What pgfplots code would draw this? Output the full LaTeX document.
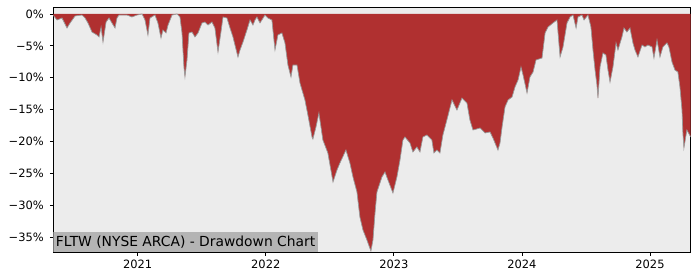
\documentclass[border=0pt]{standalone}
\usepackage{pgfplots}
\pgfplotsset{compat=1.18}
\usepackage{pgfplotstable}
\usepackage{fontspec}
\setmainfont{DejaVu Sans}
\definecolor{ddred}{RGB}{176,48,48}
\definecolor{bggray}{RGB}{236,236,236}
\definecolor{lblgray}{RGB}{180,180,180}
\pgfplotstableread{
x y
2020.339 -0.16
2020.370 -0.94
2020.409 -0.63
2020.448 -2.20
2020.472 -1.41
2020.511 -0.31
2020.565 -0.16
2020.589 -0.63
2020.612 -1.41
2020.643 -2.83
2020.682 -3.30
2020.698 -3.61
2020.714 -2.04
2020.729 -4.40
2020.753 -1.26
2020.776 -0.63
2020.799 -1.41
2020.823 -2.20
2020.838 -0.63
2020.854 -0.16
2020.916 -0.16
2020.955 -0.47
2020.995 -0.16
2021.034 0
2021.057 -0.94
2021.080 -3.30
2021.096 -0.63
2021.135 -0.16
2021.158 -1.41
2021.182 -3.77
2021.197 -2.51
2021.221 -2.98
2021.237 -1.73
2021.268 -0.16
2021.307 0
2021.330 -0.47
2021.346 -2.98
2021.361 -8.32
2021.369 -9.89
2021.385 -7.22
2021.400 -2.98
2021.424 -2.83
2021.447 -3.61
2021.471 -2.98
2021.502 -1.41
2021.525 -1.26
2021.549 -1.73
2021.580 -1.26
2021.603 -2.20
2021.627 -5.97
2021.650 -2.83
2021.666 -0.47
2021.697 -0.63
2021.721 -2.20
2021.744 -3.61
2021.775 -6.12
2021.783 -6.75
2021.799 -5.65
2021.822 -4.40
2021.853 -2.51
2021.877 -0.94
2021.900 -1.73
2021.916 -0.94
2021.931 -0.47
2021.955 -1.41
2021.994 -0.16
2022.017 -0.63
2022.048 -0.94
2022.072 -5.65
2022.095 -3.30
2022.126 -2.98
2022.150 -4.55
2022.173 -8.01
2022.197 -9.89
2022.212 -8.01
2022.244 -8.01
2022.267 -10.83
2022.306 -13.50
2022.329 -15.86
2022.361 -19.31
2022.368 -19.62
2022.392 -17.74
2022.415 -15.54
2022.446 -19.78
2022.485 -21.82
2022.525 -26.37
2022.556 -24.49
2022.579 -23.39
2022.626 -21.35
2022.657 -23.39
2022.681 -25.59
2022.712 -27.94
2022.735 -31.87
2022.759 -33.91
2022.790 -35.48
2022.821 -37.21
2022.837 -35.48
2022.853 -31.24
2022.868 -27.94
2022.907 -25.59
2022.931 -24.80
2022.954 -26.06
2022.993 -28.10
2023.024 -25.59
2023.048 -22.92
2023.071 -19.78
2023.087 -19.31
2023.126 -20.25
2023.149 -21.66
2023.180 -20.88
2023.204 -21.66
2023.227 -19.31
2023.258 -19.00
2023.297 -19.78
2023.313 -21.82
2023.336 -21.35
2023.360 -21.82
2023.383 -19.00
2023.414 -16.64
2023.454 -13.50
2023.493 -15.07
2023.532 -13.19
2023.571 -13.97
2023.594 -16.64
2023.618 -18.21
2023.673 -17.90
2023.712 -18.68
2023.751 -18.52
2023.774 -19.47
2023.813 -21.35
2023.829 -20.25
2023.845 -17.74
2023.868 -14.60
2023.892 -13.50
2023.923 -13.03
2023.946 -11.46
2023.970 -10.36
2023.993 -8.32
2024.009 -9.58
2024.040 -12.40
2024.063 -9.89
2024.087 -9.11
2024.110 -7.22
2024.157 -6.91
2024.181 -2.98
2024.204 -2.04
2024.243 -1.41
2024.274 -0.94
2024.298 -6.75
2024.321 -5.18
2024.352 -1.41
2024.376 -0.47
2024.399 -0.16
2024.423 -2.20
2024.438 -0.47
2024.469 -0.16
2024.485 -0.94
2024.516 -0.16
2024.539 -2.04
2024.555 -5.65
2024.571 -8.79
2024.586 -11.15
2024.594 -13.19
2024.610 -8.32
2024.633 -6.12
2024.656 -6.44
2024.672 -8.79
2024.688 -10.68
2024.711 -8.32
2024.735 -4.55
2024.750 -5.65
2024.781 -3.61
2024.797 -2.20
2024.820 -2.83
2024.844 -2.20
2024.867 -4.55
2024.883 -5.65
2024.906 -6.75
2024.938 -4.87
2024.961 -5.18
2024.984 -4.87
2025.016 -5.18
2025.031 -6.91
2025.055 -4.08
2025.078 -6.75
2025.101 -5.18
2025.133 -4.55
2025.148 -5.18
2025.172 -7.54
2025.195 -8.79
2025.218 -9.11
2025.234 -11.46
2025.250 -15.07
2025.257 -18.68
2025.265 -21.04
2025.288 -18.21
2025.318 -19.31
}\dd
\begin{document}
\begin{tikzpicture}
\useasboundingbox (0,0) rectangle (700bp,280bp);
\begin{axis}[
  at={(53.3bp,28bp)}, anchor=south west,
  scale only axis, width=637.4bp, height=244.7bp,
  xmin=2020.341, xmax=2025.318,
  ymin=-37.36, ymax=1.05,
  axis background/.style={fill=bggray},
  axis line style={black, line width=0.8bp},
  tick align=outside, xtick pos=bottom, ytick pos=left,
  major tick length=3.5bp,
  tick style={black, line width=0.8bp},
  xtick={2021,2022,2023,2024,2025},
  xticklabels={2021,2022,2023,2024,2025},
  ytick={-35,-30,-25,-20,-15,-10,-5,0},
  yticklabels={−35\%,−30\%,−25\%,−20\%,−15\%,−10\%,−5\%,0\%},
  ticklabel style={font=\fontsize{11.5}{13}\selectfont},
  yticklabel style={xshift=-2.5bp},
  xticklabel style={yshift=-1bp},
  clip=true,
]
\addplot[fill=ddred, draw=none] table[x=x,y=y] {\dd} \closedcycle;
\addplot[draw=gray!80, line width=0.7bp] table[x=x,y=y] {\dd};
\node[fill=lblgray, anchor=south west, inner xsep=2.5bp, inner ysep=0pt,
      minimum height=19.5bp, text depth=0.25em,
      font=\fontsize{13.9}{15}\selectfont] at (rel axis cs:0,0)
      {FLTW (NYSE ARCA) - Drawdown Chart};
\end{axis}
\end{tikzpicture}
\end{document}
